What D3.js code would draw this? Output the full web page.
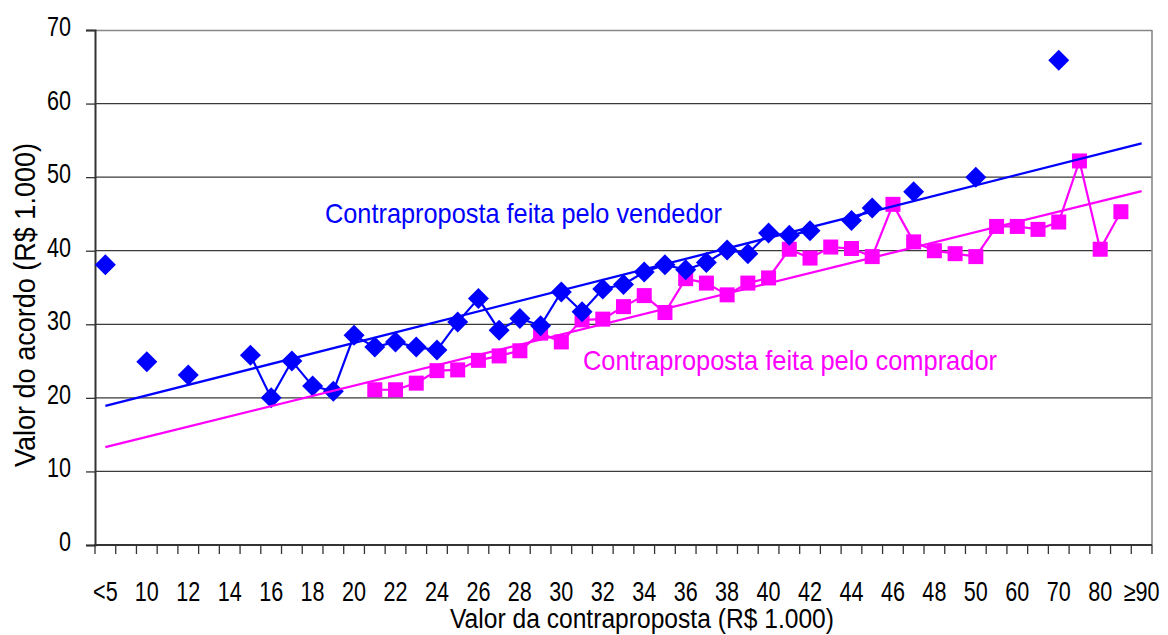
<!DOCTYPE html>
<html>
<head>
<meta charset="utf-8">
<script src="https://cdn.jsdelivr.net/npm/d3@7"></script>
<style>
  html, body { margin: 0; padding: 0; background: #fff; }
  svg { display: block; }
  text { font-family: "Liberation Sans", Arial, sans-serif; fill: #000; }
</style>
</head>
<body>
<svg id="chart" width="1168" height="635"></svg>
<script>
// ---- Data ----
const categories = ["<5","5","10","11","12","13","14","15","16","17","18","19","20","21","22","23","24","25","26","27","28","29","30","31","32","33","34","35","36","37","38","39","40","41","42","43","44","45","46","47","48","49","50","55","60","65","70","75","80","85","≥90"];

const vendedor = [38.1,null,24.9,null,23.1,null,null,25.8,20.0,25.0,21.6,20.9,28.5,26.9,27.6,26.9,26.5,30.3,33.5,29.2,30.8,29.8,34.4,31.7,34.8,35.4,37.1,38.1,37.4,38.4,40.1,39.6,42.4,42.1,42.7,null,44.1,45.8,null,48.0,null,null,50.0,null,null,null,65.9,null,null,null,null];

const comprador = [null,null,null,null,null,null,null,null,null,null,null,null,null,21.1,21.1,22.0,23.7,23.8,25.1,25.7,26.4,28.8,27.6,30.6,30.7,32.4,33.9,31.6,36.2,35.6,34.0,35.6,36.3,40.2,39.0,40.5,40.3,39.2,46.3,41.2,40.0,39.6,39.2,43.3,43.3,42.9,43.9,52.2,40.2,45.3,null];

// Linear trend lines (values at first and last category)
const trendVendedor = [18.9, 54.6];
const trendComprador = [13.3, 48.1];

const yTicks = [0,10,20,30,40,50,60,70];

const labelVendedor = "Contraproposta feita pelo vendedor";
const labelComprador = "Contraproposta feita pelo comprador";
const xTitle = "Valor da contraproposta (R$ 1.000)";
const yTitle = "Valor do acordo (R$ 1.000)";

// ---- Layout ----
const colBlue = "#0000ff";
const colMag = "#ff00ff";
const L = 95, R = 1152, T = 30, B = 545;
const narrow = 0.8;

const svg = d3.select("#chart");

const x = d3.scaleBand().domain(categories).range([L, R]).padding(0);
const y = d3.scaleLinear().domain([0, 70]).range([B, T]);
const cx = c => x(c) + x.bandwidth() / 2;

// Gridlines
svg.append("g").selectAll("line").data(yTicks.filter(t => t > 0 && t < 70)).join("line")
  .attr("x1", L).attr("x2", R).attr("y1", d => y(d)).attr("y2", d => y(d))
  .attr("stroke", "#3a3a3a").attr("stroke-width", 1.2);

// Plot border (top, right)
svg.append("line").attr("x1", L).attr("x2", R).attr("y1", T + 0.5).attr("y2", T + 0.5)
  .attr("stroke", "#888").attr("stroke-width", 1.6);
svg.append("line").attr("x1", R).attr("x2", R).attr("y1", T).attr("y2", B)
  .attr("stroke", "#888").attr("stroke-width", 1.6);

// Y axis
const yAxis = d3.axisLeft(y).tickValues(yTicks).tickSize(9).tickFormat(d3.format("d"));
const gy = svg.append("g").attr("transform", `translate(${L},0)`).call(yAxis);
gy.select(".domain").attr("stroke", "#333").attr("stroke-width", 2);
gy.selectAll(".tick line").attr("stroke", "#333").attr("stroke-width", 1.3);
gy.selectAll(".tick text")
  .style("font-size", "27px").attr("fill", "#000")
  .attr("text-anchor", "end").attr("x", 0).attr("y", 0).attr("dy", null)
  .attr("transform", `translate(-24,5.5) scale(${narrow},1)`);

// X axis labels (every other category)
const xAxis = d3.axisBottom(x).tickValues(categories.filter((c, i) => i % 2 === 0)).tickSize(0);
const gx = svg.append("g").attr("transform", `translate(0,${B})`).call(xAxis);
gx.select(".domain").remove();
gx.selectAll(".tick text")
  .style("font-size", "27px").attr("fill", "#000")
  .attr("text-anchor", "middle").attr("x", 0).attr("y", 0).attr("dy", null)
  .attr("transform", `translate(0,56) scale(${narrow},1)`);

// X axis line and boundary ticks
svg.append("line").attr("x1", L - 1).attr("x2", R).attr("y1", B).attr("y2", B)
  .attr("stroke", "#333").attr("stroke-width", 2);
const boundaries = categories.map(c => x(c)).concat([x(categories[categories.length - 1]) + x.bandwidth()]);
svg.append("g").selectAll("line").data(boundaries).join("line")
  .attr("x1", d => d).attr("x2", d => d).attr("y1", B).attr("y2", B + 9)
  .attr("stroke", "#333").attr("stroke-width", 1.3);

// Axis titles
svg.append("text").attr("x", 450).attr("y", 628)
  .attr("textLength", 384).attr("lengthAdjust", "spacingAndGlyphs")
  .style("font-size", "27px").text(xTitle);
svg.append("text").attr("transform", `translate(35,467) rotate(-90)`)
  .attr("textLength", 324).attr("lengthAdjust", "spacingAndGlyphs")
  .style("font-size", "29px").text(yTitle);

// Series data
const vData = categories.map((c, i) => ({ c, v: vendedor[i] }));
const mData = categories.map((c, i) => ({ c, v: comprador[i] }));

const line = d3.line().defined(d => d.v != null).x(d => cx(d.c)).y(d => y(d.v));

// Comprador series
svg.append("path").datum(mData).attr("d", line).attr("fill", "none")
  .attr("stroke", colMag).attr("stroke-width", 2.2);
svg.append("g").selectAll("rect").data(mData.filter(d => d.v != null)).join("rect")
  .attr("x", d => cx(d.c) - 7.5).attr("y", d => y(d.v) - 7.5).attr("width", 15).attr("height", 15)
  .attr("fill", colMag);

// Vendedor series
svg.append("path").datum(vData).attr("d", line).attr("fill", "none")
  .attr("stroke", colBlue).attr("stroke-width", 2.2);
svg.append("g").selectAll("path").data(vData.filter(d => d.v != null)).join("path")
  .attr("d", d3.symbol().type(d3.symbolSquare).size(220))
  .attr("transform", d => `translate(${cx(d.c)},${y(d.v)}) rotate(45)`)
  .attr("fill", colBlue);

// Trend lines
const first = categories[0], last = categories[categories.length - 1];
svg.append("line").attr("x1", cx(first)).attr("x2", cx(last))
  .attr("y1", y(trendVendedor[0])).attr("y2", y(trendVendedor[1]))
  .attr("stroke", colBlue).attr("stroke-width", 2.3);
svg.append("line").attr("x1", cx(first)).attr("x2", cx(last))
  .attr("y1", y(trendComprador[0])).attr("y2", y(trendComprador[1]))
  .attr("stroke", colMag).attr("stroke-width", 2.3);

// Annotations
svg.append("text").attr("x", 325).attr("y", 223)
  .attr("textLength", 397).attr("lengthAdjust", "spacingAndGlyphs")
  .style("font-size", "28px").style("fill", colBlue).text(labelVendedor);
svg.append("text").attr("x", 583).attr("y", 370)
  .attr("textLength", 414).attr("lengthAdjust", "spacingAndGlyphs")
  .style("font-size", "28px").style("fill", colMag).text(labelComprador);
</script>
</body>
</html>
